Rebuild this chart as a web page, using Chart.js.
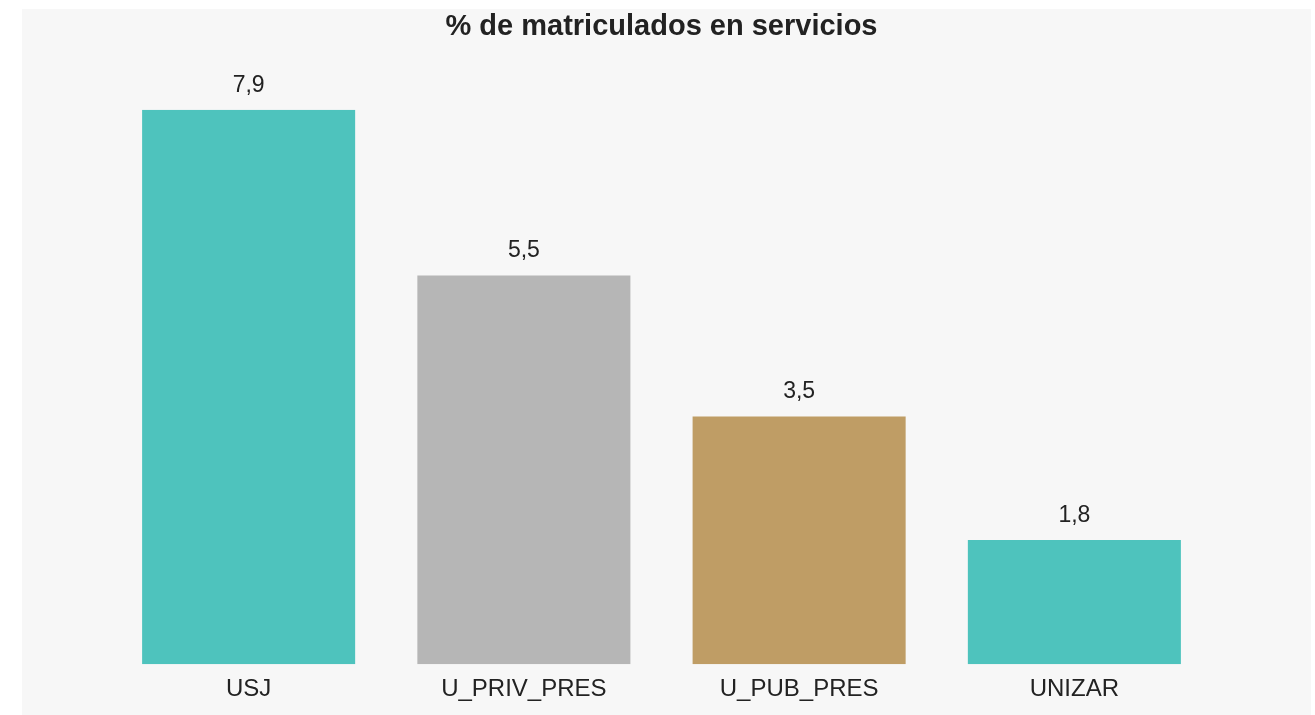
<!DOCTYPE html>
<html lang="es">
<head>
    <meta charset="utf-8">
    <script src="https://cdn.jsdelivr.net/npm/chart.js"></script>
    <title>% de matriculados en servicios</title>
    <style>
        html, body { margin: 0; padding: 0; background: #ffffff; }
        #panel {
            position: absolute;
            left: 22px;
            top: 9px;
            width: 1289px;
            height: 706px;
            background: #f7f7f7;
        }
    </style>
</head>
<body>

<div id="panel">
    <canvas id="chart"></canvas>
</div>

<script>
    // Chart data
    const categories = ['USJ', 'U_PRIV_PRES', 'U_PUB_PRES', 'UNIZAR'];
    const values = [7.9, 5.54, 3.53, 1.77];
    const barColors = ['#4ec3bd', '#b6b6b6', '#bf9d65', '#4ec3bd'];

    const fontFamily = '"Liberation Sans", Arial, Helvetica, sans-serif';

    function formatValue(v) {
        return v.toFixed(1).replace('.', ',');
    }

    // draws the value above each bar
    const valueLabels = {
        id: 'valueLabels',
        afterDatasetsDraw(chart) {
            const ctx = chart.ctx;
            const meta = chart.getDatasetMeta(0);
            ctx.save();
            ctx.font = '23px ' + fontFamily;
            ctx.fillStyle = '#222222';
            ctx.textAlign = 'center';
            ctx.textBaseline = 'alphabetic';
            meta.data.forEach((bar, i) => {
                ctx.fillText(formatValue(values[i]), bar.x, bar.y - 18);
            });
            ctx.restore();
        }
    };

    new Chart(document.getElementById('chart'), {
        type: 'bar',
        data: {
            labels: categories,
            datasets: [{
                data: values,
                backgroundColor: barColors,
                borderWidth: 0,
                categoryPercentage: 1,
                barPercentage: 0.774
            }]
        },
        options: {
            responsive: true,
            maintainAspectRatio: false,
            animation: false,
            layout: {
                padding: { left: 89, right: 99, top: 0, bottom: 0 }
            },
            plugins: {
                legend: { display: false },
                tooltip: { enabled: false },
                title: {
                    display: true,
                    text: '% de matriculados en servicios',
                    color: '#222222',
                    font: { family: fontFamily, size: 29, weight: 'bold' },
                    padding: { top: 1, bottom: 65 }
                }
            },
            scales: {
                x: {
                    grid: { display: false, drawTicks: false },
                    border: { display: false },
                    ticks: {
                        color: '#222222',
                        padding: 11,
                        font: { family: fontFamily, size: 24 }
                    }
                },
                y: {
                    display: false,
                    min: 0,
                    max: 7.9
                }
            }
        },
        plugins: [valueLabels]
    });
</script>

</body>
</html>
